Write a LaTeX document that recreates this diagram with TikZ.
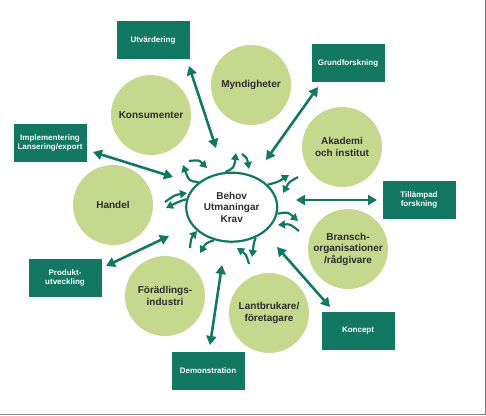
\documentclass[tikz,border=0pt]{standalone}
\usepackage{fontspec}
\setmainfont{Liberation Sans}
\usetikzlibrary{arrows.meta,shapes.geometric}
\definecolor{boxgreen}{RGB}{18,120,98}
\definecolor{circgreen}{RGB}{198,216,142}
\definecolor{txtgray}{RGB}{45,45,45}
\definecolor{framegray}{RGB}{128,128,128}
\begin{document}
\begin{tikzpicture}[x=1pt,y=-1pt,
  actor/.style={circle,fill=circgreen,minimum size=80pt,inner sep=0pt,align=center,
    font=\fontsize{10}{11.5}\selectfont\bfseries,text=txtgray},
  task/.style={rectangle,fill=boxgreen,minimum width=73pt,minimum height=38pt,inner sep=1pt,
    align=center,font=\fontsize{8}{9.3}\selectfont\bfseries,text=white},
  longarr/.style={draw=boxgreen,line width=2.6pt,
    {Triangle[length=9pt,width=10pt]}-{Triangle[length=9pt,width=10pt]}},
  smallarr/.style={draw=boxgreen,line width=2.2pt,-{Triangle[length=7pt,width=8pt]}},
  hubstyle/.style={ellipse,draw=boxgreen,line width=2.2pt,minimum width=91pt,minimum height=69pt,
    inner sep=0pt,align=center,font=\fontsize{10}{11.5}\selectfont\bfseries,text=txtgray}]
\useasboundingbox (0,0) rectangle (486,415);
\draw[framegray,line width=1.5pt] (485.25,0) -- (485.25,414.25) -- (0,414.25);

% actors
\node[actor] (mynd) at (251,85) {Myndigheter};
\node[actor] (kons) at (151,115) {Konsumenter};
\node[actor] (akad) at (342,147) {Akademi\\och institut};
\node[actor] (hand) at (113,205) {Handel};
\node[actor] (bran) at (348,249) {Bransch-\\organisationer\\/rådgivare};
\node[actor] (fora) at (165,296) {Förädlings-\\industri};
\node[actor] (lant) at (269,313) {Lantbrukare/\\företagare};

% tasks
\node[task] (utv) at (153,40) {Utvärdering};
\node[task] (grund) at (348,63) {Grundforskning};
\node[task] (impl) at (50,143) {Implementering\\Lansering/export};
\node[task] (till) at (419,200) {Tillämpad\\forskning};
\node[task] (prod) at (65,278) {Produkt-\\utveckling};
\node[task] (konc) at (358,331) {Koncept};
\node[task] (demo) at (208,371) {Demonstration};

% hub
\node[hubstyle] (hub) at (231.7,207.2) {Behov\\Utmaningar\\Krav};

% long arrow ends
\coordinate (utvA) at (189,66);   \coordinate (utvB) at (216,148);
\coordinate (grundA) at (318,87); \coordinate (grundB) at (266,160);
\coordinate (implA) at (93,152);  \coordinate (implB) at (173,177);
\coordinate (tillA) at (377,200); \coordinate (tillB) at (296,200);
\coordinate (prodA) at (106,266); \coordinate (prodB) at (169,236);
\coordinate (demoA) at (210,345); \coordinate (demoB) at (222,265);
\coordinate (koncA) at (330,307); \coordinate (koncB) at (277,247);

\draw[longarr] (utvA) -- (utvB);
\draw[longarr] (grundA) -- (grundB);
\draw[longarr] (implA) -- (implB);
\draw[longarr] (tillA) -- (tillB);
\draw[longarr] (prodA) -- (prodB);
\draw[longarr] (demoA) -- (demoB);
\draw[longarr] (koncA) -- (koncB);

% branches leaving the hub
\draw[smallarr] (hub.143) .. controls (189,181) .. (183,165);
\draw[smallarr] (hub.170) .. controls (178,202) .. (166,208);
\draw[smallarr] (hub.100) .. controls (234,168) .. (236,153);
\draw[smallarr] (hub.32) .. controls (278,182) .. (289,175);
\draw[smallarr] (hub.-8) .. controls (288,212) .. (298,221);
\draw[smallarr] (hub.-52) .. controls (254,242) .. (252,257);
\draw[smallarr] (hub.-118) .. controls (206,243) .. (200,253);

% incoming small arrows
\coordinate (s1a) at (189,161); \coordinate (s1b) at (207,168);
\coordinate (s2a) at (242,154); \coordinate (s2b) at (249,169);
\coordinate (s3a) at (298,177); \coordinate (s3b) at (283,193);
\coordinate (s4a) at (299,231); \coordinate (s4b) at (278,225);
\coordinate (s5a) at (249,264); \coordinate (s5b) at (237,248);
\coordinate (s6a) at (190,248); \coordinate (s6b) at (197,231);
\coordinate (s7a) at (165,202); \coordinate (s7b) at (187,193);
\draw[smallarr] (s1a) .. controls (199,160) .. (s1b);
\draw[smallarr] (s2a) .. controls (247,158) .. (s2b);
\draw[smallarr] (s3a) .. controls (289,182) .. (s3b);
\draw[smallarr] (s4a) .. controls (290,224) .. (s4b);
\draw[smallarr] (s5a) .. controls (246,254) .. (s5b);
\draw[smallarr] (s6a) .. controls (191,238) .. (s6b);
\draw[smallarr] (s7a) .. controls (175,195) .. (s7b);
\end{tikzpicture}
\end{document}
